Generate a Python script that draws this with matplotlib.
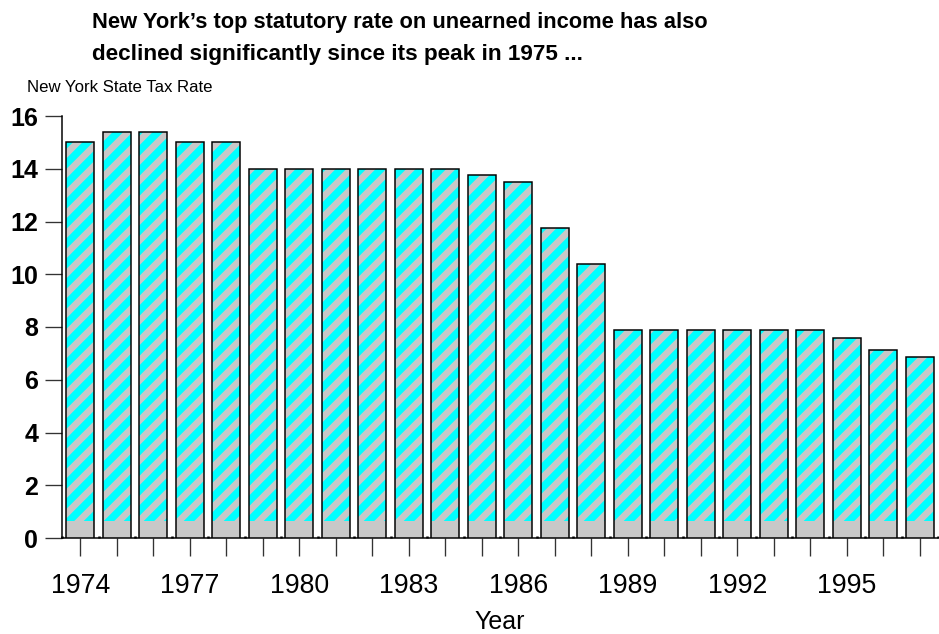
import matplotlib
matplotlib.use("Agg")
import matplotlib.pyplot as plt
from matplotlib.ticker import MultipleLocator

# Top NY state rate on unearned income, by year
years = list(range(1974, 1998))
rates = [15.0, 15.375, 15.375, 15.0, 15.0,
         14.0, 14.0, 14.0, 14.0, 14.0, 14.0,
         13.75, 13.5, 11.75, 10.375,
         7.875, 7.875, 7.875, 7.875, 7.875, 7.875,
         7.59, 7.125, 6.85]
year_labels = [1974, 1977, 1980, 1983, 1986, 1989, 1992, 1995]
y_ticks = [0, 2, 4, 6, 8, 10, 12, 14, 16]

plt.rcParams['font.family'] = ['Liberation Sans', 'DejaVu Sans']
plt.rcParams['hatch.linewidth'] = 4.0

DPI = 120
W, H = 939, 634
fig = plt.figure(figsize=(W / DPI, H / DPI), dpi=DPI)
ax = fig.add_axes([62 / W, 96 / H, 876 / W, 422 / H])

w = 0.76
# striped body
ax.bar(years, rates, width=w, color='#00ffff', edgecolor='#c8c8c8',
       hatch='//', linewidth=0, zorder=2)
# solid grey base strip
ax.bar(years, [0.63] * len(years), width=w, color='#c8c8c8',
       linewidth=0, zorder=3)
# outlines
ax.bar(years, rates, width=w, fill=False, edgecolor='black',
       linewidth=0.9, zorder=4)

ax.set_xlim(1973.5, 1997.5)
ax.set_ylim(0, 16)

for s in ['top', 'right']:
    ax.spines[s].set_visible(False)
ax.spines['left'].set_linewidth(0.9)
ax.spines['bottom'].set_linewidth(0.9)

ax.set_yticks(y_ticks)
ax.set_yticklabels([str(v) for v in y_ticks], fontsize=15, fontweight='bold')
ax.tick_params(axis='y', direction='out', length=10.2, width=0.8,
               color='#333333', pad=4)

ax.set_xticks(years)
ax.set_xticklabels([str(y) if y in year_labels else '' for y in years],
                   fontsize=16)
ax.tick_params(axis='x', direction='out', length=10.8, width=0.8,
               color='#333333', pad=10)
ax.xaxis.set_minor_locator(MultipleLocator(1, offset=0.5))
ax.tick_params(axis='x', which='minor', direction='in', length=1.5,
               width=1.5, color='black')

ax.set_xlabel('Year', fontsize=15, labelpad=7)

ylab = fig.text(27 / W, 1 - 92 / H, 'New York State Tax Rate', fontsize=10,
                ha='left', va='baseline')
t1 = fig.text(92 / W, 1 - 28 / H,
              'New York\u2019s top statutory rate on unearned income has also',
              fontsize=14, fontweight='bold', ha='left', va='baseline')
t2 = fig.text(92 / W, 1 - 60 / H,
              'declined significantly since its peak in 1975 ...',
              fontsize=14, fontweight='bold', ha='left', va='baseline')

# size the header texts to their intended widths
renderer = fig.canvas.get_renderer()
for txt, target in [(t1, 617), (t2, 491), (ylab, 185)]:
    cur = txt.get_window_extent(renderer).width
    txt.set_fontsize(txt.get_fontsize() * target / cur)

fig.savefig('out.png', dpi=DPI)
